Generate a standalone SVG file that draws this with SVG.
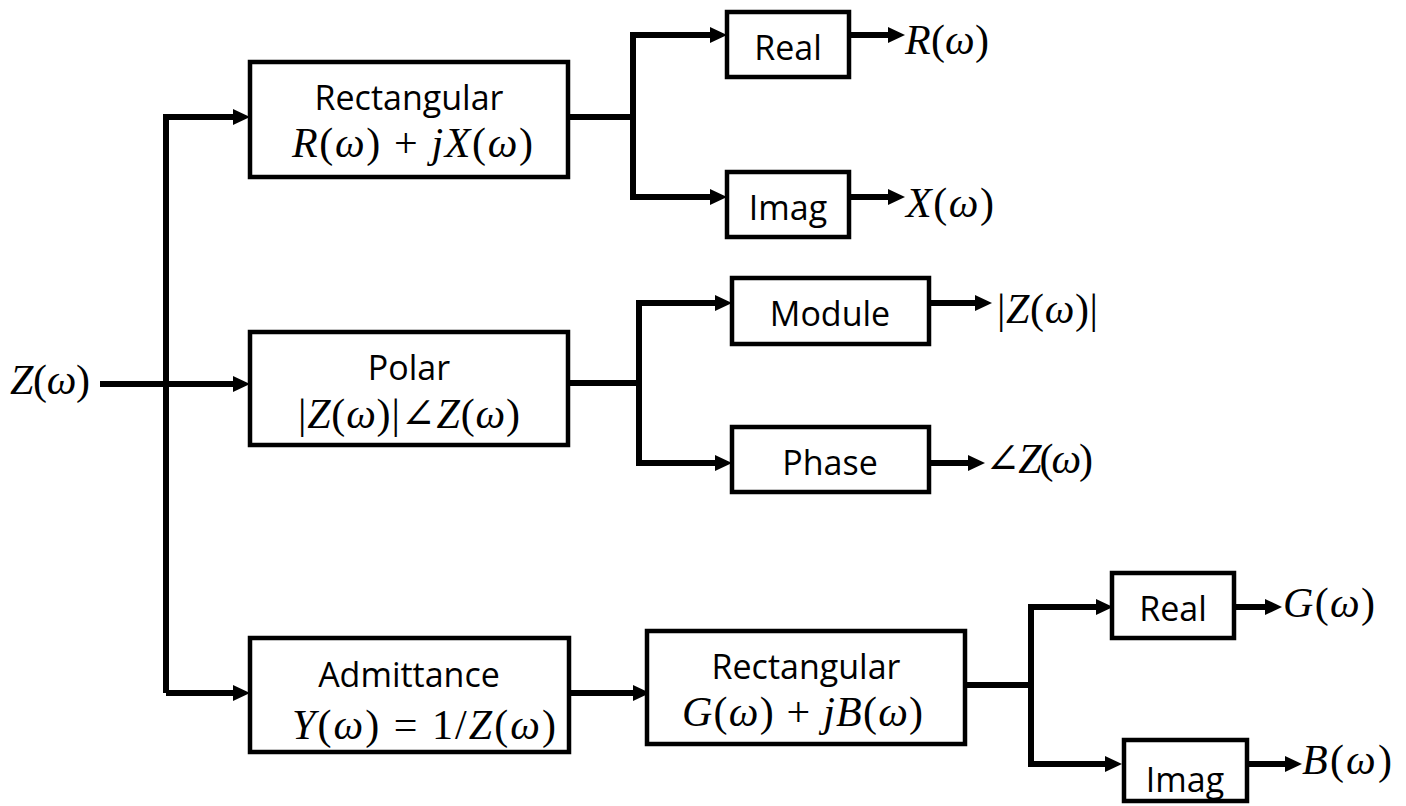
<svg xmlns="http://www.w3.org/2000/svg" width="1406" height="806" viewBox="0 0 1406 806">
<style>
.box{fill:#fff;stroke:#000;stroke-width:4.5}
.lbl{font-family:"Open Sans","Noto Sans","Liberation Sans",sans-serif;font-size:34px;fill:#000;text-anchor:middle}
.m{font-family:"Liberation Serif","DejaVu Serif",serif;font-size:42px;fill:#000}
.i{font-style:italic}
.c{fill:none;stroke:#000;stroke-width:6;stroke-linejoin:miter}
</style>
<defs>
<marker id="ah" viewBox="0 0 17 16" refX="3" refY="8" markerWidth="17" markerHeight="16" markerUnits="userSpaceOnUse" orient="auto">
<path d="M0,0 L17,8 L0,16 Z" fill="#000"/>
</marker>
</defs>
<rect width="1406" height="806" fill="#fff"/>
<g id="connectors">
<path class="c" d="M100,384 H236" marker-end="url(#ah)"/>
<path class="c" d="M166,693 V117 H236" marker-end="url(#ah)"/>
<path class="c" d="M166,693 H236" marker-end="url(#ah)"/>
<path class="c" d="M568,117 H633"/>
<path class="c" d="M633,117 V35 H713" marker-end="url(#ah)"/>
<path class="c" d="M633,117 V197 H713" marker-end="url(#ah)"/>
<path class="c" d="M849,35 H891" marker-end="url(#ah)"/>
<path class="c" d="M849,197 H891" marker-end="url(#ah)"/>
<path class="c" d="M568,383 H639"/>
<path class="c" d="M639,383 V303 H718" marker-end="url(#ah)"/>
<path class="c" d="M639,383 V463 H718" marker-end="url(#ah)"/>
<path class="c" d="M929,303 H978" marker-end="url(#ah)"/>
<path class="c" d="M929,463 H971" marker-end="url(#ah)"/>
<path class="c" d="M569,693 H636" marker-end="url(#ah)"/>
<path class="c" d="M965,685 H1031"/>
<path class="c" d="M1031,685 V607 H1099" marker-end="url(#ah)"/>
<path class="c" d="M1031,685 V764 H1108" marker-end="url(#ah)"/>
<path class="c" d="M1234,607 H1268" marker-end="url(#ah)"/>
<path class="c" d="M1247,764 H1288" marker-end="url(#ah)"/>
</g>
<g id="input">
<text class="m" x="10" y="394" textLength="80" lengthAdjust="spacing"><tspan class="i">Z</tspan>(<tspan class="i">ω</tspan>)</text>
</g>
<g id="rect1">
<rect class="box" x="250" y="62" width="318" height="115"/>
<text class="lbl" x="409" y="110">Rectangular</text>
<text class="m" x="292" y="157" textLength="241" lengthAdjust="spacing"><tspan class="i">R</tspan>(<tspan class="i">ω</tspan>) + <tspan class="i">jX</tspan>(<tspan class="i">ω</tspan>)</text>
</g>
<g id="polar">
<rect class="box" x="250" y="332" width="318" height="113"/>
<text class="lbl" x="409" y="380">Polar</text>
<text class="m" x="298" y="428" textLength="222" lengthAdjust="spacing">|<tspan class="i">Z</tspan>(<tspan class="i">ω</tspan>)|∠<tspan class="i">Z</tspan>(<tspan class="i">ω</tspan>)</text>
</g>
<g id="admittance">
<rect class="box" x="250" y="638" width="319" height="114"/>
<text class="lbl" x="409" y="687">Admittance</text>
<text class="m" x="292" y="739" textLength="264" lengthAdjust="spacing"><tspan class="i">Y</tspan>(<tspan class="i">ω</tspan>) = 1/<tspan class="i">Z</tspan>(<tspan class="i">ω</tspan>)</text>
</g>
<g id="real1">
<rect class="box" x="727" y="12" width="122" height="65"/>
<text class="lbl" x="788" y="60">Real</text>
</g>
<g id="imag1">
<rect class="box" x="727" y="172" width="122" height="65"/>
<text class="lbl" x="788" y="220">Imag</text>
</g>
<g id="module">
<rect class="box" x="732" y="278" width="197" height="66"/>
<text class="lbl" x="830" y="326">Module</text>
</g>
<g id="phase">
<rect class="box" x="732" y="427" width="197" height="65"/>
<text class="lbl" x="830" y="475">Phase</text>
</g>
<g id="rect2">
<rect class="box" x="647" y="631" width="318" height="113"/>
<text class="lbl" x="806" y="679">Rectangular</text>
<text class="m" x="682" y="726" textLength="241" lengthAdjust="spacing"><tspan class="i">G</tspan>(<tspan class="i">ω</tspan>) + <tspan class="i">jB</tspan>(<tspan class="i">ω</tspan>)</text>
</g>
<g id="real2">
<rect class="box" x="1112" y="573" width="122" height="65"/>
<text class="lbl" x="1173" y="621">Real</text>
</g>
<g id="imag2">
<rect class="box" x="1124" y="740" width="123" height="61"/>
<text class="lbl" x="1185" y="792">Imag</text>
</g>
<g id="outputs">
<text class="m" x="905" y="54" textLength="84" lengthAdjust="spacing"><tspan class="i">R</tspan>(<tspan class="i">ω</tspan>)</text>
<text class="m" x="906" y="217" textLength="88" lengthAdjust="spacing"><tspan class="i">X</tspan>(<tspan class="i">ω</tspan>)</text>
<text class="m" x="997" y="323" textLength="101" lengthAdjust="spacing">|<tspan class="i">Z</tspan>(<tspan class="i">ω</tspan>)|</text>
<text class="m" x="985" y="473" textLength="108" lengthAdjust="spacing">∠<tspan class="i">Z</tspan>(<tspan class="i">ω</tspan>)</text>
<text class="m" x="1283" y="617" textLength="92" lengthAdjust="spacing"><tspan class="i">G</tspan>(<tspan class="i">ω</tspan>)</text>
<text class="m" x="1302" y="774" textLength="90" lengthAdjust="spacing"><tspan class="i">B</tspan>(<tspan class="i">ω</tspan>)</text>
</g>
</svg>
